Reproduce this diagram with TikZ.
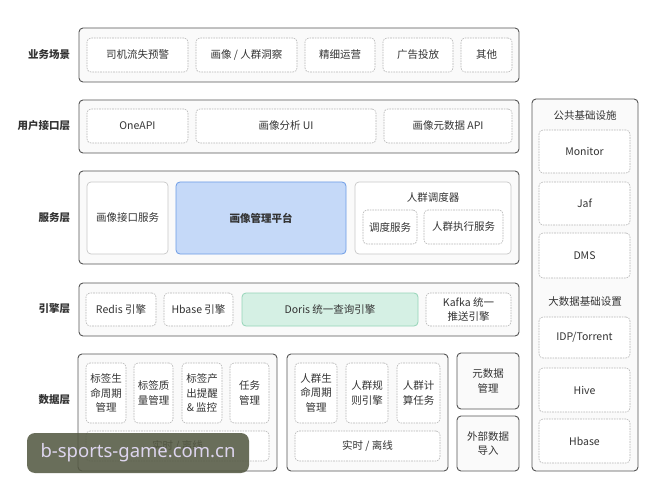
\documentclass[tikz,border=0pt]{standalone}
\usepackage{fontspec}
\setmainfont{Noto Sans CJK SC}
\newfontfamily\wmfont{Noto Sans}
\definecolor{txt}{HTML}{333333}
\definecolor{lyr}{HTML}{555555}
\definecolor{dsh}{HTML}{B5B5B5}
\definecolor{sld}{HTML}{C8C8C8}
\definecolor{bluefill}{HTML}{C5D9F8}
\definecolor{blueline}{HTML}{6C9BE6}
\definecolor{greenfill}{HTML}{D5F0E4}
\definecolor{greenline}{HTML}{94D4B7}
\definecolor{wmfill}{HTML}{555A44}
\definecolor{wmtext}{HTML}{DDD5EE}
\newcommand\bx[7]{\node[#6,minimum width={(#4-#2)*1pt},minimum height={(#5-#3)*1pt}] (#1) at ({(#2+#4)/2},{(#3+#5)/2}) {#7};}
\begin{document}
\begin{tikzpicture}[x=1pt,y=-1pt,
  every node/.style={inner sep=0pt,outer sep=0pt,text=txt,font=\fontsize{10.5}{14.5}\selectfont,align=center},
  layer/.style={draw=lyr,line width=0.9pt,rounded corners=4pt,fill=white!98!black},
  dbox/.style={draw=dsh,line width=0.6pt,dash pattern=on 1.6pt off 1pt,rounded corners=4pt,fill=white},
  sbox/.style={draw=sld,line width=0.7pt,rounded corners=4pt,fill=white},
  bluebox/.style={draw=blueline,line width=0.8pt,rounded corners=4pt,fill=bluefill},
  greenbox/.style={draw=greenline,line width=0.8pt,rounded corners=4pt,fill=greenfill},
  lbl/.style={anchor=east,font=\fontsize{10.5}{13}\selectfont\bfseries},
  plain/.style={}]
\useasboundingbox (0,0) rectangle (670,500);
\fill[white] (0,0) rectangle (670,500);
% left labels
\node[lbl] (t1) at (70,55) {业务场景};
\node[lbl] (t2) at (70,126) {用户接口层};
\node[lbl] (t3) at (70,218) {服务层};
\node[lbl] (t4) at (70,309) {引擎层};
\node[lbl] (t5) at (70,400) {数据层};
% business layer
\bx{L1}{79}{28}{519}{82}{layer}{}
\bx{a1}{87}{38}{188}{72}{dbox}{司机流失预警}
\bx{a2}{196}{38}{297}{72}{dbox}{画像 / 人群洞察}
\bx{a3}{305}{38}{375}{72}{dbox}{精细运营}
\bx{a4}{383}{38}{453}{72}{dbox}{广告投放}
\bx{a5}{461}{38}{512}{72}{dbox}{其他}
% user interface layer
\bx{L2}{79}{100}{519}{153}{layer}{}
\bx{b1}{87}{109}{188}{143}{dbox}{OneAPI}
\bx{b2}{196}{109}{376}{143}{dbox}{画像分析 UI}
\bx{b3}{384}{109}{512}{143}{dbox}{画像元数据 API}
% service layer
\bx{L3}{79}{171}{519}{264}{layer}{}
\bx{c1}{87}{182}{168}{254}{sbox}{画像接口服务}
\bx{c2}{176}{182}{346}{254}{bluebox}{\bfseries 画像管理平台}
\bx{c3}{355}{182}{511}{254}{sbox}{}
\node (c3t) at (433,197) {人群调度器};
\bx{c4}{363}{210}{417}{244}{dbox}{调度服务}
\bx{c5}{424}{210}{503}{244}{dbox}{人群执行服务}
% engine layer
\bx{L4}{79}{283}{519}{336}{layer}{}
\bx{d1}{86}{293}{156}{326}{dbox}{Redis 引擎}
\bx{d2}{164}{293}{233}{326}{dbox}{Hbase 引擎}
\bx{d3}{242}{293}{418}{326}{greenbox}{Doris 统一查询引擎}
\bx{d4}{426}{293}{511}{326}{dbox}{Kafka 统一\\推送引擎}
% data layer
\bx{L5}{78}{354}{277}{471}{layer}{}
\bx{e1}{86}{363}{126}{423}{dbox}{标签生\\命周期\\管理}
\bx{e2}{134}{363}{173}{423}{dbox}{标签质\\量管理}
\bx{e3}{182}{363}{222}{423}{dbox}{标签产\\出提醒\\\& 监控}
\bx{e4}{230}{363}{269}{423}{dbox}{任务\\管理}
\bx{e5}{86}{431}{269}{461}{dbox}{实时 / 离线}
\bx{L6}{287}{354}{448}{471}{layer}{}
\bx{f1}{295}{363}{337}{423}{dbox}{人群生\\命周期\\管理}
\bx{f2}{346}{363}{388}{423}{dbox}{人群规\\则引擎}
\bx{f3}{397}{363}{440}{423}{dbox}{人群计\\算任务}
\bx{f4}{295}{431}{440}{461}{dbox}{实时 / 离线}
\bx{g1}{457}{353}{519}{409}{layer}{元数据\\管理}
\bx{g2}{457}{416}{519}{471}{layer}{外部数据\\导入}
% infrastructure column
\bx{R}{532}{99}{638}{471}{layer}{}
\node (Rt1) at (585,116) {公共基础设施};
\bx{r1}{539}{130}{630}{173}{dbox}{Monitor}
\bx{r2}{539}{182}{630}{225}{dbox}{Jaf}
\bx{r3}{539}{233}{630}{278}{dbox}{DMS}
\node (Rt2) at (585,302) {大数据基础设置};
\bx{r4}{539}{317}{630}{358}{dbox}{IDP/Torrent}
\bx{r5}{539}{368}{630}{412}{dbox}{Hive}
\bx{r6}{539}{419}{630}{463}{dbox}{Hbase}
% watermark
\bx{wm}{27}{433}{249}{473}{plain,fill=wmfill,fill opacity=0.88,text opacity=1,rounded corners=8pt,text=wmtext,font=\wmfont\fontsize{18.5}{20}\selectfont}{b-sports-game.com.cn}
\end{tikzpicture}
\end{document}
